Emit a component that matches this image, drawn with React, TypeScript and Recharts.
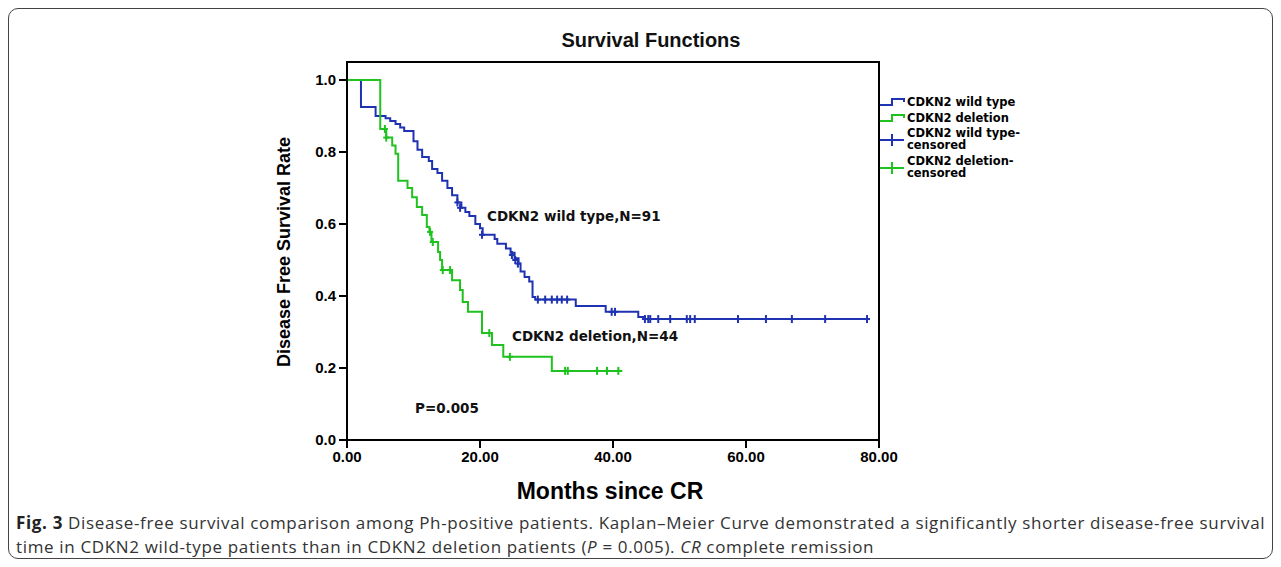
import React from 'react';
import {
  ComposedChart, Line, Scatter, XAxis, YAxis, ReferenceArea,
} from 'recharts';

// Kaplan–Meier steps: time in months, survival after that time
const wildTimes = [0, 2.1, 4.3, 5.8, 6.5, 7.3, 8.0, 8.6, 10.0, 10.6, 11.3, 12.3, 12.8, 13.6, 14.3, 15.1, 15.8, 16.6, 17.2, 17.8, 18.4, 19.3, 20.0, 20.4, 22.2, 22.6, 23.9, 24.6, 25.2, 25.8, 26.1, 26.7, 27.4, 27.9, 28.3, 34.4, 38.9, 43.8, 44.8, 78.6];
const wildSurv = [1.0, 0.925, 0.9, 0.894, 0.886, 0.878, 0.868, 0.858, 0.83, 0.806, 0.786, 0.775, 0.753, 0.742, 0.72, 0.7, 0.68, 0.66, 0.645, 0.633, 0.622, 0.6, 0.588, 0.57, 0.558, 0.545, 0.532, 0.52, 0.505, 0.49, 0.468, 0.453, 0.44, 0.397, 0.39, 0.372, 0.356, 0.342, 0.336, 0.336];
const wildCensT = [16.6, 17.0, 20.3, 24.8, 25.3, 25.7, 28.7, 29.8, 30.8, 31.6, 32.3, 33.1, 39.8, 40.3, 44.8, 45.3, 45.6, 46.8, 48.6, 51.1, 51.6, 52.3, 58.8, 63.0, 66.9, 71.9, 78.2];
const wildCensS = [0.66, 0.645, 0.57, 0.514, 0.5, 0.49, 0.39, 0.39, 0.39, 0.39, 0.39, 0.39, 0.356, 0.356, 0.336, 0.336, 0.336, 0.336, 0.336, 0.336, 0.336, 0.336, 0.336, 0.336, 0.336, 0.336, 0.336];

const delTimes = [0, 5.0, 5.9, 6.8, 7.3, 7.7, 9.1, 9.8, 10.5, 11.3, 12.0, 12.4, 12.7, 13.7, 14.0, 14.3, 15.8, 17.0, 17.4, 18.2, 20.3, 21.8, 23.5, 30.8, 41.4];
const delSurv = [1.0, 0.864, 0.84, 0.818, 0.795, 0.72, 0.7, 0.674, 0.647, 0.625, 0.592, 0.578, 0.55, 0.522, 0.5, 0.472, 0.444, 0.417, 0.383, 0.356, 0.297, 0.264, 0.231, 0.192, 0.192];
const delCensT = [5.7, 5.9, 12.5, 12.9, 14.4, 15.5, 21.4, 24.5, 32.8, 33.2, 37.6, 39.1, 40.8];
const delCensS = [0.864, 0.84, 0.578, 0.55, 0.472, 0.472, 0.297, 0.231, 0.192, 0.192, 0.192, 0.192, 0.192];

const xTicks = [0, 20, 40, 60, 80];
const yTicks = [0, 0.2, 0.4, 0.6, 0.8, 1.0];

const legendItems = [
  { label: ['CDKN2 wild type'], kind: 'step', color: 'blue' },
  { label: ['CDKN2 deletion'], kind: 'step', color: 'green' },
  { label: ['CDKN2 wild type-', 'censored'], kind: 'cross', color: 'blue' },
  { label: ['CDKN2 deletion-', 'censored'], kind: 'cross', color: 'green' },
];

const BLUE = '#1f33b2';
const GREEN = '#1fc21f';
const colors: Record<string, string> = { blue: BLUE, green: GREEN };

const zip = (ts: number[], ss: number[]) => ts.map((t, i) => ({ t, s: ss[i] }));
const wildLine = zip(wildTimes, wildSurv);
const delLine = zip(delTimes, delSurv);
const wildCens = zip(wildCensT, wildCensS);
const delCens = zip(delCensT, delCensS);

const makeCross = (color: string) => (props: any) => {
  const { cx, cy } = props;
  return (
    <g>
      <line x1={cx} x2={cx} y1={cy - 4} y2={cy + 4} stroke={color} strokeWidth={2} />
      <line x1={cx - 3} x2={cx + 3} y1={cy} y2={cy} stroke={color} strokeWidth={2} />
    </g>
  );
};

function LegendBox() {
  const font = { fontFamily: '"DejaVu Sans", Verdana, sans-serif', fontWeight: 700, fontSize: 11.5, color: '#000', lineHeight: '12px' };
  return (
    <div style={{ position: 'absolute', left: 879, top: 94, width: 180 }}>
      {legendItems.map((it, i) => {
        const c = colors[it.color];
        const two = it.label.length > 1;
        return (
          <div key={i} style={{ display: 'flex', alignItems: 'center', height: two ? 26 : 16, marginTop: i === 3 ? 2 : 0 }}>
            <svg width={28} height={16} style={{ flex: 'none' }}>
              {it.kind === 'step' ? (
                <path d="M1 11 H13 V5 H25 V8" fill="none" stroke={c} strokeWidth={2} />
              ) : (
                <g>
                  <line x1={1} x2={25} y1={9} y2={9} stroke={c} strokeWidth={2} />
                  <line x1={13} x2={13} y1={3} y2={15} stroke={c} strokeWidth={2} />
                </g>
              )}
            </svg>
            <div style={font}>
              {it.label.map((l, j) => <div key={j}>{l}</div>)}
            </div>
          </div>
        );
      })}
    </div>
  );
}

const tickStyle = { fontFamily: '"Liberation Sans", Arial, sans-serif', fontWeight: 700, fontSize: 15, fill: '#000' };
const annot = { fontFamily: '"DejaVu Sans", Verdana, sans-serif', fontWeight: 700, fontSize: 13.5, fill: '#111' };

export default function App() {
  return (
    <div style={{ position: 'absolute', left: 0, top: 0, width: 1281, height: 567, background: '#fff' }}>
      <div style={{ position: 'absolute', left: 8, top: 8, width: 1265, height: 551, border: '1px solid #444', borderRadius: 10, boxSizing: 'border-box' }} />
      <div style={{ position: 'absolute', left: 0, top: 0 }}>
        <ComposedChart width={1281} height={567} margin={{ top: 62, right: 402, bottom: 87, left: 0 }}>
          <XAxis
            dataKey="t"
            type="number"
            domain={[0, 80]}
            ticks={xTicks}
            tickFormatter={(v) => Number(v).toFixed(2)}
            axisLine={{ stroke: '#000', strokeWidth: 2 }}
            tickLine={{ stroke: '#000', strokeWidth: 2 }}
            tickSize={8}
            tickMargin={3}
            tick={tickStyle}
            height={40}
          />
          <YAxis
            dataKey="s"
            type="number"
            domain={[0, 1.05]}
            ticks={yTicks}
            allowDataOverflow
            tickFormatter={(v) => Number(v).toFixed(1)}
            axisLine={{ stroke: '#000', strokeWidth: 2 }}
            tickLine={{ stroke: '#000', strokeWidth: 2 }}
            tickSize={8}
            tickMargin={3}
            tick={tickStyle}
            width={347}
          />
          <ReferenceArea x1={0} x2={80} y1={0} y2={1.05} fill="none" stroke="#000" strokeWidth={2} ifOverflow="visible" />
          <Line data={wildLine} dataKey="s" type="stepAfter" stroke={BLUE} strokeWidth={2} dot={false} isAnimationActive={false} />
          <Line data={delLine} dataKey="s" type="stepAfter" stroke={GREEN} strokeWidth={2} dot={false} isAnimationActive={false} />
          <Scatter data={wildCens} dataKey="s" shape={makeCross(BLUE)} isAnimationActive={false} />
          <Scatter data={delCens} dataKey="s" shape={makeCross(GREEN)} isAnimationActive={false} />
        </ComposedChart>
      </div>
      <LegendBox />
      <svg width={1281} height={567} style={{ position: 'absolute', left: 0, top: 0, pointerEvents: 'none' }}>
        <text x={651} y={47} textAnchor="middle" style={{ fontFamily: '"Liberation Sans", Arial, sans-serif', fontWeight: 700, fontSize: 20, fill: '#111' }}>Survival Functions</text>
        <text x={610} y={499} textAnchor="middle" style={{ fontFamily: '"Liberation Sans", Arial, sans-serif', fontWeight: 700, fontSize: 23, fill: '#000' }}>Months since CR</text>
        <text x={290} y={252} textAnchor="middle" transform="rotate(-90 290 252)" style={{ fontFamily: '"Liberation Sans", Arial, sans-serif', fontWeight: 700, fontSize: 18, fill: '#000' }}>Disease Free Survival Rate</text>
        <text x={487} y={221} style={annot}>CDKN2 wild type,N=91</text>
        <text x={512} y={341} style={annot}>CDKN2 deletion,N=44</text>
        <text x={415} y={413} style={annot}>P=0.005</text>
      </svg>
      <div style={{ position: 'absolute', left: 16, top: 511, width: 1260, fontFamily: '"Open Sans", sans-serif', fontSize: 17, letterSpacing: 0.65, lineHeight: '24px', color: '#333', whiteSpace: 'nowrap' }}>
        <b style={{ color: '#222' }}>Fig. 3</b> Disease-free survival comparison among Ph-positive patients. Kaplan–Meier Curve demonstrated a significantly shorter disease-free survival
        <br />
        time in CDKN2 wild-type patients than in CDKN2 deletion patients (<i>P</i> = 0.005). <i>CR</i> complete remission
      </div>
    </div>
  );
}
